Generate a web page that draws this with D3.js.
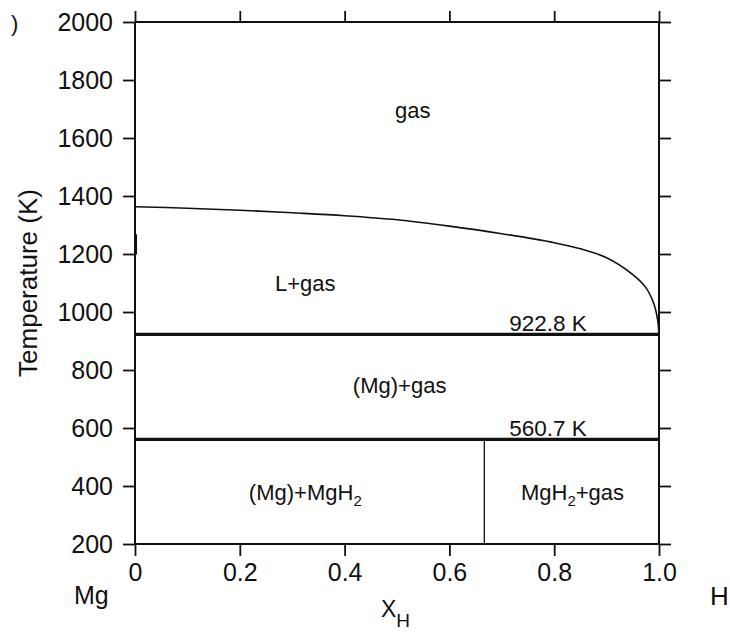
<!DOCTYPE html>
<html>
<head>
<meta charset="utf-8">
<script src="https://cdn.jsdelivr.net/npm/d3@7"></script>
<style>
  html, body { margin: 0; padding: 0; background: #fff; }
  svg { display: block; }
  text { font-family: "Liberation Sans", Arial, Helvetica, sans-serif; fill: #111; }
</style>
</head>
<body>
<svg id="chart" width="730" height="632"></svg>
<script>
// Mg–H phase diagram: temperature vs. hydrogen mole fraction

// Gas/liquid boundary (liquid + gas to gas), X_H vs T
const liqX = [0, 0.1, 0.2, 0.3, 0.4, 0.5, 0.6, 0.7, 0.8, 0.85, 0.9, 0.95, 0.975, 0.99, 0.997, 1.0];
const liqT = [1363, 1358, 1351, 1342, 1332, 1318, 1296, 1270, 1239, 1218, 1187, 1129, 1084, 1029, 977, 922.8];

// Mg-rich liquid boundary near pure Mg
const mgLiqX = [0.002, 0.002];
const mgLiqT = [1268, 1198];

// Invariant temperatures (K)
const invariantT = [922.8, 560.7];
const invariantLabels = ["922.8 K", "560.7 K"];

// MgH2 composition line
const mgh2X = 2 / 3;

// Axis ticks
const xTicks = [0, 0.2, 0.4, 0.6, 0.8, 1.0];
const yTicks = [200, 400, 600, 800, 1000, 1200, 1400, 1600, 1800, 2000];

// Phase-region labels: text, subscript, tail, X_H, T
const regionNames = ["gas", "L+gas", "(Mg)+gas", "(Mg)+MgH", "MgH"];
const regionSubs = ["", "", "", "2", "2"];
const regionTails = ["", "", "", "", "+gas"];
const regionX = [0.530, 0.325, 0.505, 0.325, 0.835];
const regionT = [1670, 1072, 722, 352, 352];

const svg = d3.select("#chart");
const margin = { left: 135, top: 22, right: 71, bottom: 88 };
const W = 730 - margin.left - margin.right;   // 524
const H = 632 - margin.top - margin.bottom;   // 522

const x = d3.scaleLinear().domain([0, 1]).range([0, W]);
const y = d3.scaleLinear().domain([200, 2000]).range([H, 0]);

const g = svg.append("g").attr("transform", `translate(${margin.left},${margin.top})`);

const tickFmt = d => d === 0 ? "0" : d.toFixed(1);

function styleAxis(sel) {
  sel.select(".domain").remove();
  sel.selectAll(".tick line").attr("stroke", "#111").attr("stroke-width", 1.8);
  sel.selectAll(".tick text").style("font-size", "25px").attr("fill", "#111");
}

g.append("g")
  .call(d3.axisLeft(y).tickValues(yTicks).tickSize(12).tickSizeOuter(0).tickPadding(10).tickFormat(d3.format("d")))
  .call(styleAxis);
g.append("g").attr("transform", `translate(${W},0)`)
  .call(d3.axisRight(y).tickValues(yTicks).tickSize(12).tickSizeOuter(0).tickFormat(""))
  .call(styleAxis);
g.append("g").attr("transform", `translate(0,${H})`)
  .call(d3.axisBottom(x).tickValues(xTicks).tickSize(12).tickSizeOuter(0).tickPadding(7).tickFormat(tickFmt))
  .call(styleAxis);
g.append("g")
  .call(d3.axisTop(x).tickValues(xTicks).tickSize(11).tickSizeOuter(0).tickFormat(""))
  .call(styleAxis);

// Frame
g.append("line").attr("x1", 0).attr("x2", W).attr("y1", 0).attr("y2", 0).attr("stroke", "#111").attr("stroke-width", 2);
g.append("line").attr("x1", 0).attr("x2", W).attr("y1", H).attr("y2", H).attr("stroke", "#111").attr("stroke-width", 2);
g.append("line").attr("x1", 0).attr("x2", 0).attr("y1", 0).attr("y2", H).attr("stroke", "#111").attr("stroke-width", 2);
g.append("line").attr("x1", W).attr("x2", W).attr("y1", 0).attr("y2", H).attr("stroke", "#111").attr("stroke-width", 2);

// Liquid/gas boundary
const liqLine = d3.line().x(d => x(d[0])).y(d => y(d[1])).curve(d3.curveCatmullRom.alpha(0.5));
g.append("path")
  .datum(liqX.map((v, i) => [v, liqT[i]]))
  .attr("d", liqLine)
  .attr("fill", "none").attr("stroke", "#111").attr("stroke-width", 1.6);

g.append("path")
  .datum(mgLiqX.map((v, i) => [v, mgLiqT[i]]))
  .attr("d", d3.line().x(d => x(d[0])).y(d => y(d[1])))
  .attr("fill", "none").attr("stroke", "#111").attr("stroke-width", 2);

// Invariant horizontals
invariantT.forEach((t, i) => {
  g.append("line")
    .attr("x1", x(0)).attr("x2", x(1)).attr("y1", y(t)).attr("y2", y(t))
    .attr("stroke", "#111").attr("stroke-width", 3.2);
  g.append("text")
    .attr("x", x(0.714)).attr("y", y(t) - 3.5)
    .style("font-size", "22.5px")
    .text(invariantLabels[i]);
});

// MgH2 line
g.append("line")
  .attr("x1", x(mgh2X)).attr("x2", x(mgh2X))
  .attr("y1", y(invariantT[1])).attr("y2", y(200))
  .attr("stroke", "#111").attr("stroke-width", 1.3);

// Region labels
regionNames.forEach((name, i) => {
  const t = g.append("text")
    .attr("x", x(regionX[i])).attr("y", y(regionT[i]))
    .attr("text-anchor", "middle")
    .style("font-size", "22px");
  t.append("tspan").text(name);
  if (regionSubs[i]) {
    t.append("tspan").attr("dy", 6).style("font-size", "15px").text(regionSubs[i]);
    if (regionTails[i]) t.append("tspan").attr("dy", -6).text(regionTails[i]);
  }
});

// Axis titles and end-member labels
svg.append("text")
  .attr("transform", `translate(37,283) rotate(-90)`)
  .attr("text-anchor", "middle")
  .style("font-size", "26px")
  .text("Temperature (K)");

const xt = svg.append("text")
  .attr("x", 381).attr("y", 617)
  .style("font-size", "23px");
xt.append("tspan").text("X");
xt.append("tspan").attr("dy", 10).style("font-size", "19px").text("H");

svg.append("text").attr("x", 74).attr("y", 604).style("font-size", "25px").text("Mg");
svg.append("text").attr("x", 710).attr("y", 605).style("font-size", "26px").text("H");
svg.append("text").attr("x", 11).attr("y", 31).style("font-size", "22px").text(")");
</script>
</body>
</html>
